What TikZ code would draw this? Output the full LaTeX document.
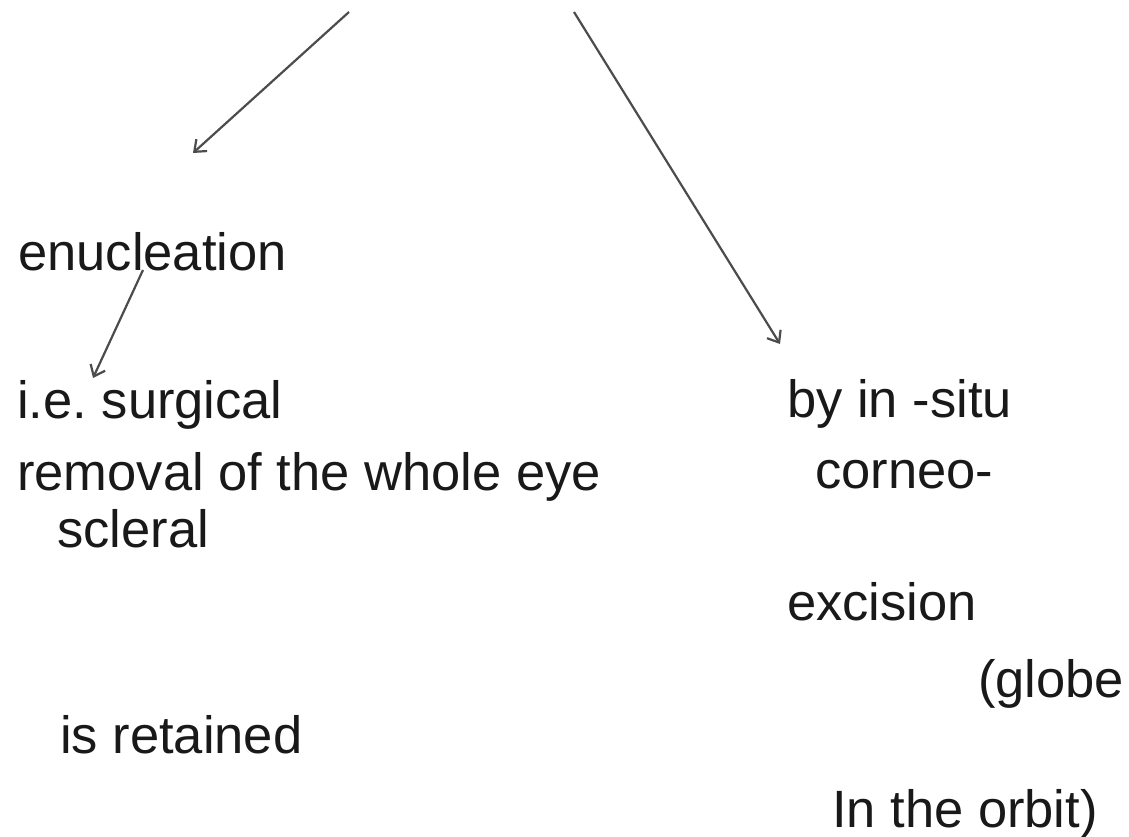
\documentclass[tikz,border=0pt]{standalone}
\usepackage{fontspec}
\setmainfont{Liberation Sans}
\usetikzlibrary{arrows.meta}
\frenchspacing
\begin{document}
\begin{tikzpicture}[x=1pt,y=-1pt]
        \tikzstyle{every node}=[font=\fontsize{52.5}{60}\selectfont, inner sep=0pt, anchor=base west, text=black!90]
        \tikzstyle{pointer}=[draw=black!70, line width=2.2pt, -{Straight Barb[length=10pt,width=16pt]}]
        \useasboundingbox (0,0) rectangle (1129,837);
        % left branch
        \node (enuc) at (18,270) {enucleation};
        \node (ie) at (17,418) {i.e. surgical};
        \node (removal) at (17,490) {removal of the whole eye};
        \node (scleral) at (57,547) {scleral};
        \node (retained) at (60,753) {is retained};
        % right branch
        \node (insitu) at (787,417) {by in -situ};
        \node (corneo) at (815,488) {corneo-};
        \node (excision) at (787,620) {excision};
        \node (globe) at (978,697) {(globe};
        \node (orbit) at (832,827) {In the orbit)};
        % arrow ends
        \coordinate (topL) at (349,12);
        \coordinate (endL) at (193,153);
        \coordinate (topR) at (574,12);
        \coordinate (endR) at (780,344);
        \coordinate (enucL) at (143,270);
        \coordinate (ieL) at (93,378);
        \draw[pointer] (topL) -- (endL);
        \draw[pointer] (topR) -- (endR);
        \draw[pointer] (enucL) -- (ieL);
    \end{tikzpicture}
\end{document}
